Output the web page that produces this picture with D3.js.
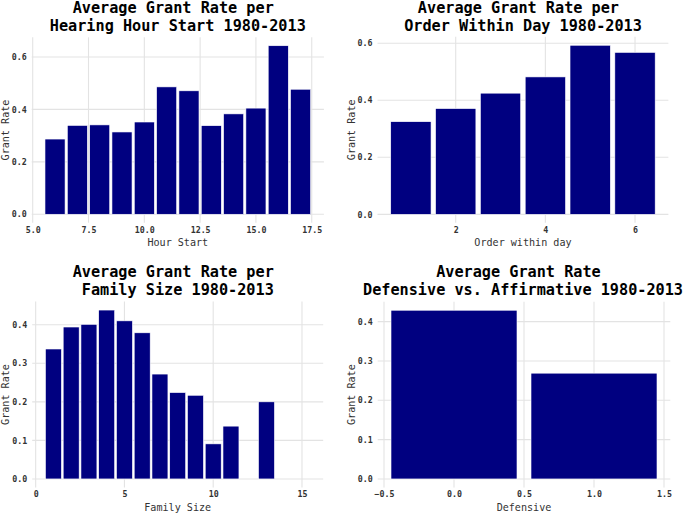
<!DOCTYPE html>
<html><head><meta charset="utf-8">
<script src="https://cdn.jsdelivr.net/npm/d3@7"></script>
<style>
html,body{margin:0;padding:0;background:#fff;}
svg{display:block;}
text{font-family:"DejaVu Sans Mono",monospace;}
</style></head>
<body><svg id="chart" width="685" height="515"></svg>
<script>
// ---- data ----
const hourStart = [6,7,8,9,10,11,12,13,14,15,16,17];
const hourRate  = [0.287,0.339,0.341,0.314,0.352,0.486,0.471,0.338,0.383,0.405,0.643,0.477];
const hourTicks = [5,7.5,10,12.5,15,17.5];

const orderDay  = [1,2,3,4,5,6];
const orderRate = [0.325,0.371,0.425,0.482,0.593,0.568];
const orderTicks = [2,4,6];

const familySize = [1,2,3,4,5,6,7,8,9,10,11,12,13,15];
const familyRate = [0.337,0.394,0.401,0.438,0.410,0.379,0.272,0.224,0.217,0.091,0.137,0,0.200,0];
const familyTicks = [0,5,10,15];

const defensive = [0,1];
const defRate   = [0.429,0.269];
const defTicks  = [-0.5,0,0.5,1,1.5];

const rateTicksA = [0,0.2,0.4,0.6];
const rateTicksB = [0,0.1,0.2,0.3,0.4];

const panels = [
  {title:["Average Grant Rate per ","Hearing Hour Start 1980-2013"], xlab:"Hour Start",
   x:hourStart, y:hourRate, xt:hourTicks, yt:rateTicksA, xf:d3.format(".1f"),
   px:[31.7,323.9], py:[222.7,37.3], ty:[7.5,25.5], cx:177.8},
  {title:["Average Grant Rate per ","Order Within Day 1980-2013"], xlab:"Order within day",
   x:orderDay, y:orderRate, xt:orderTicks, yt:rateTicksA, xf:d3.format("d"),
   px:[377.5,668.4], py:[222.8,36.8], ty:[7.5,25.5], cx:523},
  {title:["Average Grant Rate per ","Family Size 1980-2013"], xlab:"Family Size",
   x:familySize, y:familyRate, xt:familyTicks, yt:rateTicksB, xf:d3.format("d"),
   px:[32.2,323.2], py:[487.4,301.6], ty:[272,290], cx:177.8},
  {title:["Average Grant Rate ","Defensive vs. Affirmative 1980-2013"], xlab:"Defensive",
   x:defensive, y:defRate, xt:defTicks, yt:rateTicksB, xf:d3.format(".1f"),
   px:[377.7,670.3], py:[487.4,301.8], ty:[272,290], cx:523}
];

const svg = d3.select("#chart");
const bw = 0.9;

panels.forEach(p => {
  const g = svg.append("g");
  const xmin = d3.min(p.x) - bw/2, xmax = d3.max(p.x) + bw/2;
  const xe = (xmax - xmin) * 0.05;
  const ymax = d3.max(p.y), ye = ymax * 0.05;
  const x = d3.scaleLinear().domain([xmin - xe, xmax + xe]).range(p.px);
  const y = d3.scaleLinear().domain([-ye, ymax + ye]).range(p.py);

  // grid
  g.selectAll(".gy").data(p.yt).join("line")
    .attr("x1", p.px[0]).attr("x2", p.px[1])
    .attr("y1", d => y(d)).attr("y2", d => y(d))
    .attr("stroke", "#e3e3e3").attr("stroke-width", 1.1);
  g.selectAll(".gx").data(p.xt).join("line")
    .attr("y1", p.py[0]).attr("y2", p.py[1])
    .attr("x1", d => x(d)).attr("x2", d => x(d))
    .attr("stroke", "#e3e3e3").attr("stroke-width", 1.1);

  // bars
  g.selectAll(".bar").data(p.x.map((v,i)=>({x:v, y:p.y[i]}))).join("rect")
    .attr("x", d => x(d.x - bw/2))
    .attr("width", d => x(d.x + bw/2) - x(d.x - bw/2))
    .attr("y", d => y(d.y))
    .attr("height", d => y(0) - y(d.y))
    .attr("fill", "#000080")
    .attr("stroke", "#ffffff").attr("stroke-width", 0.6);

  // axes tick labels
  const yAxis = d3.axisLeft(y).tickValues(p.yt).tickFormat(d3.format(".1f")).tickSize(0).tickPadding(5);
  const ya = g.append("g").attr("transform", `translate(${p.px[0]},0)`).call(yAxis);
  const xAxis = d3.axisBottom(x).tickValues(p.xt).tickFormat(p.xf).tickSize(0).tickPadding(4);
  const xa = g.append("g").attr("transform", `translate(0,${p.py[0]})`).call(xAxis);
  [ya, xa].forEach(a => {
    a.select(".domain").remove();
    a.selectAll("text").attr("font-family","DejaVu Sans Mono, monospace")
      .attr("font-size", 8.3).attr("font-weight","bold").attr("fill","#333");
  });

  // axis titles
  g.append("text").attr("x", (p.px[0]+p.px[1])/2).attr("y", p.py[0] + 23.5)
    .attr("text-anchor","middle").attr("font-size",10.1).attr("fill","#333").text(p.xlab);
  const ymid = (p.py[0]+p.py[1])/2;
  const ylx = p.px[0] < 200 ? 5 : 351.7;
  g.append("text").attr("transform", `translate(${ylx},${ymid}) rotate(-90)`)
    .attr("text-anchor","middle").attr("dy","0.35em").attr("font-size",10.1).attr("fill","#333").text("Grant Rate");

  // title
  p.title.forEach((t,i) => {
    g.append("text").attr("x", p.cx).attr("y", p.ty[i]).attr("dy","0.35em")
      .attr("text-anchor","middle").style("white-space","pre")
      .attr("font-size",15.2).attr("font-weight","bold").attr("fill","#000").text(t);
  });
});
</script></body></html>
